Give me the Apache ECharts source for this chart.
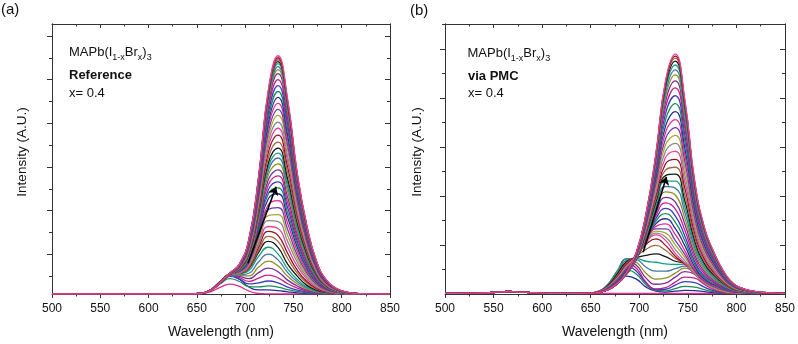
<!DOCTYPE html>
<html><head><meta charset="utf-8">
<script src="https://cdn.jsdelivr.net/npm/echarts@6/dist/echarts.min.js"></script>
<style>html,body{margin:0;padding:0;background:#fff}#c{width:798px;height:344px}</style>
</head><body><div id="c"></div>
<script>
// ---------- data (wavelength in nm, intensity in arbitrary units) ----------
const wavelengthsA = [644,654,664,674,684,694,704,714,724,734,744,754,764,774,784,794,804,814,824];
const leadWavelengthsA = [500, 634];
const leadValuesA = [0, 0];
const tailWavelengthsA = [834, 850];
const tailValuesA = [0, 0];
const spectraA = [
 [0,0.4,2.2,6.6,10,7.6,2.9,0.5,0.1,0,0,0,0,0,0,0,0,0,0],
 [0.1,0.7,4.1,12.6,19.2,14.9,7,4.2,4.1,3.4,2.2,1.2,0.6,0.3,0.1,0,0,0,0],
 [0,0.5,3.2,10,15.4,12.6,7.5,7.1,8.1,6.9,4.3,2.5,1.2,0.5,0.2,0.1,0,0,0],
 [0,0.6,3.8,11.4,17.7,14.9,10.1,11.2,13.1,11.2,7,4,2,0.9,0.4,0.1,0,0,0],
 [0,0.6,4,12.1,19,16.6,12.7,16,19.1,16.3,10.3,5.9,2.9,1.2,0.5,0.2,0.1,0,0],
 [0,0.6,4,12.2,19.4,17.8,15.5,21.5,26.1,22.4,14,8.1,3.9,1.7,0.7,0.3,0.1,0,0],
 [0,0.6,4,12.3,19.8,18.9,18.3,27.1,33.1,28.4,17.8,10.2,5,2.1,0.9,0.3,0.1,0,0],
 [0,0.6,3.9,11.8,19.2,19.2,20.9,32.5,40.1,34.4,21.6,12.4,6,2.6,1.1,0.4,0.1,0,0],
 [0,0.6,3.9,12,19.6,20.3,23.7,38,47.1,40.4,25.4,14.6,7,3.1,1.3,0.5,0.1,0,0],
 [0,0.6,3.9,12,20,21,26,42,53,47,30,18,8.7,3.9,1.6,0.6,0.2,0.1,0],
 [0,0.6,3.9,12,20,21,26.5,44,58,53,36,21,11,4.8,2,0.8,0.3,0.1,0],
 [0,0.6,3.9,12,20,22,27.5,47,63,59,41,24,12.5,5.7,2.4,0.9,0.3,0.1,0],
 [0,0.6,3.7,11,19,21,28,50,68,66,47,28,15,6.7,2.9,1.1,0.4,0.1,0],
 [0,0.6,3.7,11,19,22,29,52,74,73,53,32,17,7.8,3.3,1.3,0.5,0.1,0],
 [0,0.6,3.7,11,19,22,30.5,55,79,80,59,35.5,19,8.8,3.8,1.5,0.5,0.2,0],
 [0,0.6,3.7,11.5,19.5,22.5,31.6,58,85,87,65,39,21,9.9,4.2,1.7,0.6,0.2,0],
 [0,0.6,3.7,11.5,19.6,23,33,61,90,94,71,43,23,11,4.7,1.9,0.7,0.2,0.1],
 [0,0.6,3.7,11.5,19.7,23,34,64,96,101,77,47,25.5,12,5.1,2.1,0.7,0.2,0.1],
 [0,0.6,3.7,11.5,19.8,23.6,35,66,101,107,82,50,27,13,5.5,2.2,0.8,0.2,0.1],
 [0,0.6,3.7,11.6,19.9,24,36,68,105,113,87,53,29,14,5.9,2.4,0.9,0.3,0.1],
 [0,0.6,3.7,11.6,20,24.3,37,71,110,119,92,56.5,31,14.7,6.3,2.6,0.9,0.3,0.1],
 [0,0.5,3.5,11,19,24,37,73,115,125,97.5,60,33,15.5,6.7,2.7,1,0.3,0.1],
 [0,0.5,3.5,11,19,24,38,75.5,120,131,103,63,35,16.5,7,2.9,1,0.3,0.1],
 [0,0.5,3.5,11,19,24.5,39,78,124,137,108,66,37,17,7.5,3,1.1,0.3,0.1],
 [0,0.5,3.5,11,19.4,24.7,40,80,128,142,112,69,38,18,7.8,3.2,1.1,0.4,0.1],
 [0,0.5,3.5,11,19.4,25,41,82,132,147,116,72,40,19,8.1,3.3,1.2,0.4,0.1],
 [0,0.5,3.5,11,19.5,25.4,42,84,137,153,122,75,42,20,8.5,3.5,1.3,0.4,0.1],
 [0,0.5,3.5,11,19.6,25.7,43,87,142.5,160,128,79,44,21,9,3.7,1.3,0.4,0.1],
 [0,0.5,3.5,11.2,19.7,26,44,90,148,167,134,82.5,46,22,9.4,3.9,1.4,0.4,0.1],
 [0,0.5,3.5,11.2,19.8,26.5,45,92,153,173,139,86,48,23,9.8,4,1.5,0.4,0.1],
 [0,0.5,3.5,11.3,20,26.8,46,95,158,180,145,89.5,50,24,10.3,4.2,1.5,0.5,0.1],
 [0,0.5,3.5,11.3,20,27,47,97.5,163,186,150,93,52,25,10.7,4.4,1.6,0.5,0.1],
 [0,0.5,3.5,11.3,20,27.5,48,100,168,192,155,96,54,25.6,11,4.5,1.7,0.5,0.2],
 [0,0.5,3.6,11.3,20.2,27.8,49,102,172.5,198,160,99,55.5,26.5,11.5,4.7,1.7,0.5,0.2],
 [0,0.5,3.6,11.3,20.4,28,50,105,177,204,165.5,102,57,27.4,11.9,4.9,1.8,0.5,0.2],
 [0,0.5,3.6,11.4,20.4,28.5,51,107,182,210,171,106,59,28.3,12.2,5,1.8,0.6,0.2],
 [0,0.5,3.6,11.4,20.5,28.8,52,109.5,187,216,176,109,61,29.2,12.6,5.2,1.9,0.6,0.2],
 [0,0.5,3.6,11.4,20.6,29,53,112,191.5,222,181,112,63,30,13,5.3,2,0.6,0.2],
 [0,0.5,3.6,11.4,20.7,29.4,53.6,113.5,194.7,226,184.4,114.3,64.2,30.7,13.3,5.4,2,0.6,0.2],
 [0,0.5,3.6,11.4,20.7,29.5,54.1,114.7,197,229,187,115.9,65.2,31.2,13.5,5.5,2,0.6,0.2],
 [0,0.5,3.6,11.5,20.8,29.7,54.5,115.9,199.4,232,189.5,117.6,66.1,31.6,13.7,5.6,2,0.6,0.2],
 [0,0.5,3.6,11.5,20.8,29.8,54.9,116.7,201,234,191.3,118.6,66.7,31.9,13.8,5.7,2,0.6,0.2],
 [0,0.5,3.6,11.5,20.8,29.9,55.2,117.5,202.6,236,193,119.7,67.3,32.2,13.9,5.7,2.1,0.6,0.2],
 [0,0.5,3.6,11.5,20.9,30,55.5,118.3,204.1,238,194.7,120.8,68,32.5,14,5.8,2.1,0.6,0.2],
 [0,0.5,3.6,11.5,20.9,30.1,55.8,119.1,205.7,240,196.4,121.9,68.6,32.8,14.2,5.8,2.1,0.6,0.2]
];

const wavelengthsB = [637,647,657,667,677,687,697,707,717,727,737,747,757,767,777,787,797,807,817,827];
const leadWavelengthsB = [500,530,550,565,580,600,620];
const leadValuesB = [0.6,0.8,1.5,2.5,1.8,0.9,0.7];
const tailWavelengthsB = [840, 850];
const tailValuesB = [0.9, 0.7];
const spectraB = [
 [0.5,0.5,0.5,0.5,0.5,0.5,0.5,0.5,0.5,0.5,0.5,0.5,0.5,0.5,0.5,0.5,0.5,0.5,0.5,0.5],
 [0.7,0.8,1.6,5,12,18,15,6.9,2.8,1.9,2.8,3.6,3.4,2.3,1.3,0.8,0.7,0.7,0.7,0.7],
 [0.7,0.8,1.9,6.4,16,24,20,9.3,3.7,3.2,5.5,7.6,7,4.4,2.1,1,0.7,0.7,0.7,0.7],
 [0.7,0.8,2,7.4,18,28,23,11,4.5,4.8,8.9,12.5,11.5,7,3.1,1.3,0.8,0.7,0.7,0.7],
 [0.7,0.8,2.2,8.1,20,31,26,12,5.2,6.4,12,17,16,9.6,4.1,1.5,0.8,0.7,0.7,0.7],
 [0.7,0.9,2.3,8.7,22,33,29,16,9.8,11,17,22.5,20,12,5,1.7,0.9,0.7,0.7,0.7],
 [0.7,0.9,2.4,9,23,35,32,21,15,16,21,26,22,13,5.6,1.9,0.9,0.7,0.7,0.7],
 [0.7,0.9,2.4,8.9,22.5,35.5,34.6,27,23,23,25.5,28,23,13.3,5.8,2,0.9,0.7,0.7,0.7],
 [0.7,0.9,2.2,8.3,21,34,35.6,33,32,30.4,29.7,30,24,13.4,5.8,2,0.9,0.7,0.7,0.7],
 [0.7,0.9,2.1,7.7,19.6,32.5,36.7,39,40.4,37.6,33,30.8,23.3,12.8,5.7,2,0.9,0.7,0.7,0.7],
 [0.7,0.9,2,7.1,18,31,38,45,49,44,36,30.7,22,11.8,5.3,2,1,0.8,0.7,0.7],
 [0.7,0.9,2,6.8,17,30,39,50,55.5,49,38,30,20.4,10.8,4.9,1.9,1,0.8,0.7,0.7],
 [0.7,0.9,1.9,6.4,16,28.7,38.7,52,59.6,54,41,31,20,10.6,5.2,2.2,1.1,0.9,0.7,0.7],
 [0.7,0.9,1.8,6.1,15.4,27.7,38.2,52.4,61.3,57.5,45,33.4,20.9,11,5.7,2.6,1.3,1,0.8,0.7],
 [0.7,0.9,1.8,5.9,14.9,26.8,37.7,52.9,63.4,61.6,49.5,36.6,22,11.8,6.5,3.1,1.6,1.1,0.9,0.8],
 [0.7,0.9,1.7,5.7,14.2,25.9,37.3,53.4,65.6,65.7,54,39.6,23.3,12.5,7.2,3.6,1.9,1.2,0.9,0.8],
 [0.7,0.9,1.7,5.4,13.5,25,36.7,54,68,70.6,60,43.5,25,13.6,8.1,4.2,2.2,1.4,1,0.8],
 [0.7,0.9,1.6,5.2,12.9,24.2,36.3,54.8,70.7,75.8,66,48.5,27.6,15.2,9.3,4.9,2.5,1.5,1.1,0.8],
 [0.7,0.9,1.6,4.9,12.3,23.3,35.9,55.6,73.3,81,72.4,53.3,30.2,16.7,10.4,5.5,2.8,1.7,1.1,0.9],
 [0.7,0.9,1.5,4.7,11.7,22.4,35.5,56.3,75.9,86.2,78.7,58.2,32.8,18.3,11.5,6.2,3.1,1.8,1.2,0.9],
 [0.7,0.9,1.5,4.5,11,21.6,35,57,78.6,91.7,85.7,64,36.3,20.4,12.1,6.9,3.4,2,1.3,0.9],
 [0.7,0.9,1.5,4.5,11,21.7,35.4,58.2,81.4,97.3,92.7,70,39.8,22.5,13.5,7.6,3.7,2.2,1.3,1],
 [0.7,0.9,1.45,4.25,10.5,20.8,35,58.9,84.1,102.8,99.7,75.9,43.3,24.6,14.8,8.3,4,2.3,1.4,1],
 [0.7,0.9,1.45,4.3,10.5,20.9,35.3,60,86.9,108.3,106.7,81.8,46.8,26.7,16.1,9,4.4,2.5,1.5,1],
 [0.7,0.9,1.4,4.1,9.8,20,34.9,60.7,89.6,113.8,113.7,87.6,50.3,28.8,17.5,9.7,4.7,2.6,1.5,1],
 [0.7,0.8,1.4,4.1,9.9,20.2,35.3,61.9,92.4,119.3,120.7,93.5,53.8,30.9,18.8,10.4,5,2.8,1.6,1.1],
 [0.7,0.8,1.4,4.1,9.9,20.3,35.7,63,95.2,124.8,127.7,99.4,57.3,33,20.1,11,5.3,2.9,1.7,1.1],
 [0.7,0.8,1.4,4.1,9.9,20.4,36.1,64.3,98.4,131.2,135.7,106.1,61.3,35.4,21.6,11.9,5.7,3.1,1.8,1.1],
 [0.7,0.8,1.4,4.1,10,20.5,36.6,65.5,101.6,137.5,143.7,112.8,65.3,37.8,23.2,12.7,6,3.3,1.8,1.2],
 [0.7,0.8,1.4,4.1,10,20.7,37,66.8,104.8,143.8,151.7,119.6,69.3,40.2,24.7,13.5,6.4,3.5,1.9,1.2],
 [0.7,0.8,1.4,4.1,10,20.8,37.5,68.1,108,150.1,159.7,126.3,73.3,42.6,26.2,14.3,6.7,3.6,2,1.2],
 [0.7,0.8,1.4,4.1,10,20.9,37.9,69.4,111.2,156.4,167.7,133,77.3,45,27.7,15,7.1,3.8,2.1,1.3],
 [0.7,0.8,1.4,4.1,10.1,21,38.3,70.7,114.4,162.8,175.7,139.7,81.3,47.4,29.2,15.9,7.4,4,2.2,1.3],
 [0.7,0.8,1.4,4.1,10.1,21.2,38.8,71.9,117.6,169.1,183.7,146.4,85.3,49.8,30.8,16.7,7.8,4.2,2.2,1.3],
 [0.7,0.8,1.4,4.1,10.2,21.3,39.2,73.2,120.8,175.4,191.7,153.2,89.3,52.2,32.3,17.5,8.2,4.3,2.3,1.4],
 [0.7,0.8,1.4,4.2,10.2,21.4,39.7,74.5,124,181.7,199.7,159.9,93.3,54.6,33.8,18.3,8.5,4.5,2.4,1.4],
 [0.7,0.8,1.4,4.2,10.2,21.6,40.1,75.8,127.2,188,207.7,166.6,97.3,57,35.3,19,8.9,4.7,2.5,1.4],
 [0.7,0.8,1.4,4.2,10.2,21.7,40.5,76.9,130,193.6,214.7,172.5,100.8,59.1,36.7,19.8,9.2,4.8,2.6,1.4],
 [0.7,0.8,1.4,4.2,10.3,21.8,40.8,77.9,132.4,198.3,220.7,177.5,103.8,60.9,37.8,20.4,9.5,5,2.6,1.5],
 [0.7,0.8,1.4,4.2,10.3,21.8,41.1,78.7,134.4,202.3,225.7,181.7,106.3,62.4,38.7,20.9,9.7,5.1,2.7,1.5],
 [0.7,0.8,1.4,4.2,10.3,21.9,41.4,79.5,136.4,206.2,230.7,185.9,108.8,63.9,39.7,21.4,9.9,5.2,2.7,1.5],
 [0.7,0.8,1.4,4.2,10.3,22,41.6,80.1,138,209.4,234.7,189.3,110.8,65.1,40.5,21.8,10.1,5.3,2.8,1.5],
 [0.7,0.8,1.4,4.2,10.3,22,41.7,80.6,139.2,211.8,237.7,191.8,112.3,66,41,22,10.2,5.3,2.8,1.5],
 [0.7,0.8,1.4,4.2,10.3,22.1,41.9,80.9,140,213.3,239.7,193.5,113.3,66.6,41.4,22.3,10.3,5.4,2.8,1.5],
 [0.7,0.8,1.4,4.2,10.3,22.1,42,81.2,140.8,214.9,241.7,195.2,114.3,67.2,41.8,22.5,10.4,5.4,2.8,1.6]
];

const yMajorTicksA = [40, 84, 128, 172, 216, 260];
const yMinorTicksA = [18, 62, 106, 150, 194, 238];
const yMajorTicksB = [49.4, 98.8, 148.2, 197.6, 247];
const yMinorTicksB = [24.7, 74.1, 123.5, 172.9, 222.3, 271.7];
const arrowA = [[703, 31], [732, 108]];
const arrowB = [[704, 42], [728, 118]];
const lineColors = ['#e42a93','#2b2b98','#1a8c55','#3b3bc0','#c81e8c','#7b2b95','#8f8f22','#4576a8',
                    '#16a085','#151515','#a5683a','#8c1426','#e8439f','#8a8a8a','#a8a832','#6a3fa8'];

// ---------- chart ----------
const F = "'Liberation Sans', Arial, sans-serif";
const AX = '#333';
const chart = echarts.init(document.getElementById('c'), null, {renderer: 'canvas'});

function xAxes(gi) {
  const base = {gridIndex: gi, type: 'value', min: 500, max: 850, interval: 50,
    splitLine: {show: false}, minorSplitLine: {show: false},
    axisLine: {show: true, onZero: false, lineStyle: {color: AX, width: 1}}};
  return [
    Object.assign({}, base, {position: 'bottom',
      axisTick: {show: true, inside: false, length: 4, lineStyle: {color: AX}},
      minorTick: {show: true, splitNumber: 2, length: 2.5, lineStyle: {color: AX}},
      axisLabel: {show: true, margin: 9, color: '#111', fontSize: 12, fontFamily: F},
      name: 'Wavelength (nm)', nameLocation: 'middle', nameGap: 31,
      nameTextStyle: {fontSize: 14, color: '#111', fontFamily: F}}),
    Object.assign({}, base, {position: 'top',
      axisTick: {show: true, inside: true, length: 4, lineStyle: {color: AX}},
      minorTick: {show: true, splitNumber: 2, length: 2.5, lineStyle: {color: AX}},
      axisLabel: {show: false}})
  ];
}
function yAxis(gi, pos, inside, len, ticks) {
  return {gridIndex: gi, type: 'value', min: 0, max: 272, position: pos,
    axisLine: {show: true, onZero: false, lineStyle: {color: AX, width: 1}},
    axisTick: {show: true, inside: inside, length: len, customValues: ticks, lineStyle: {color: AX}},
    axisLabel: {show: false}, splitLine: {show: false}};
}

function buildSeries(spectra, waves, leadW, leadV, tailW, tailV, xi, yi, arrow, curve) {
  const out = [];
  spectra.forEach((vals, k) => {
    const data = [];
    leadW.forEach((w, i) => data.push([w, leadV[i]]));
    waves.forEach((w, i) => data.push([w, vals[i]]));
    tailW.forEach((w, i) => data.push([w, tailV[i]]));
    const col = lineColors[k % lineColors.length];
    const s = {type: 'line', xAxisIndex: xi, yAxisIndex: yi, data: data, smooth: 0.5,
      symbol: 'none', showSymbol: false, silent: true, animation: false,
      lineStyle: {width: 1.3, color: col}, itemStyle: {color: col}};
    if (k === spectra.length - 1) {
      s.markLine = {silent: true, animation: false, symbol: ['none', 'arrow'], symbolSize: 8,
        label: {show: false},
        lineStyle: {color: '#000', width: 1.6, type: 'solid', curveness: curve},
        data: [[{coord: arrow[0]}, {coord: arrow[1]}]]};
    }
    out.push(s);
  });
  return out;
}

const seriesA = buildSeries(spectraA, wavelengthsA, leadWavelengthsA, leadValuesA,
  tailWavelengthsA, tailValuesA, 0, 0, arrowA, -0.28);
const seriesB = buildSeries(spectraB, wavelengthsB, leadWavelengthsB, leadValuesB,
  tailWavelengthsB, tailValuesB, 2, 4, arrowB, -0.1);

const sub = {fontSize: 9, fontFamily: F, fill: '#111', lineHeight: 10, padding: [7.5, 0, 0, 0], verticalAlign: 'top'};
const main = {fontSize: 13, fontFamily: F, fill: '#111', lineHeight: 15, verticalAlign: 'top'};
function formula(x, y) {
  return {type: 'text', x: x, y: y, silent: true,
    style: {text: '{n|MAPb(I}{s|1-x}{n|Br}{s|x}{n|)}{s|3}', rich: {n: main, s: sub},
      fontSize: 13, fontFamily: F, fill: '#111', verticalAlign: 'top'}};
}
function label(x, y, txt, opts) {
  return {type: 'text', x: x, y: y, silent: true,
    style: Object.assign({text: txt, fontSize: 13, fontFamily: F, fill: '#111', verticalAlign: 'middle'}, opts || {})};
}

chart.setOption({
  animation: false,
  backgroundColor: '#fff',
  grid: [
    {left: 52, top: 24, width: 338, height: 272},
    {left: 445, top: 24, width: 341, height: 272}
  ],
  xAxis: [].concat(xAxes(0), xAxes(1)),
  yAxis: [
    yAxis(0, 'left', false, 5, yMajorTicksA), yAxis(0, 'left', false, 3, yMinorTicksA),
    yAxis(0, 'right', true, 5, yMajorTicksA), yAxis(0, 'right', true, 3, yMinorTicksA),
    yAxis(1, 'left', false, 5, yMajorTicksB), yAxis(1, 'left', false, 3, yMinorTicksB),
    yAxis(1, 'right', true, 5, yMajorTicksB), yAxis(1, 'right', true, 3, yMinorTicksB)
  ],
  series: seriesA.concat(seriesB),
  graphic: [
    label(1, 10, '(a)', {fontSize: 15}),
    label(410, 10.5, '(b)', {fontSize: 15}),
    {type: 'text', x: 22.5, y: 152, rotation: Math.PI / 2, silent: true,
      style: {text: 'Intensity (A.U.)', fontSize: 13.5, fontFamily: F, fill: '#111', align: 'center', verticalAlign: 'middle'}},
    {type: 'text', x: 417.5, y: 152, rotation: Math.PI / 2, silent: true,
      style: {text: 'Intensity (A.U.)', fontSize: 13.5, fontFamily: F, fill: '#111', align: 'center', verticalAlign: 'middle'}},
    formula(69, 46),
    label(69, 75.5, 'Reference', {fontWeight: 'bold'}),
    label(69, 93.5, 'x= 0.4'),
    formula(467.5, 47),
    label(468, 76.5, 'via PMC', {fontWeight: 'bold'}),
    label(468, 93.5, 'x= 0.4')
  ]
});
</script>
</body></html>
